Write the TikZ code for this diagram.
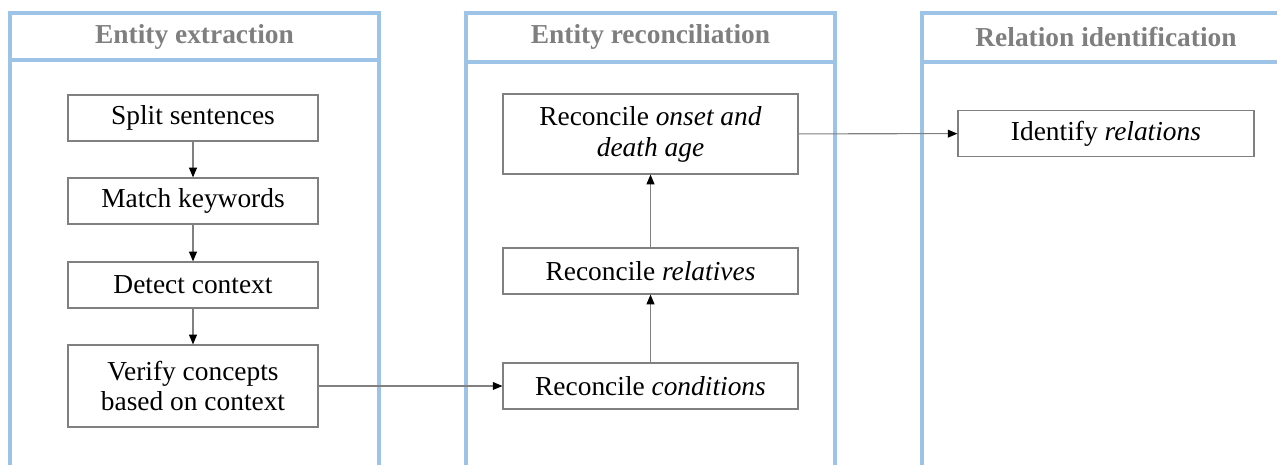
\documentclass[tikz,border=0pt]{standalone}
\usepackage{fontspec}
\setmainfont{Liberation Serif}
\usetikzlibrary{arrows.meta}

\definecolor{panelblue}{HTML}{9DC3E6}
\definecolor{headgray}{HTML}{7F7F7F}
\definecolor{boxgray}{HTML}{808080}

\begin{document}
\begin{tikzpicture}[
    x=0.02cm, y=-0.02cm,
    panel/.style={draw=panelblue, line width=2.2pt},
    head/.style={font=\fontsize{15.6}{17.6}\selectfont\bfseries, text=headgray},
    stepbox/.style={rectangle, draw=boxgray, line width=0.7pt, minimum width=5cm, minimum height=0.92cm, align=center, inner sep=2pt, font=\fontsize{15.6}{17.6}\selectfont},
    widebox/.style={stepbox, minimum width=5.9cm},
    arrow/.style={->, >={Triangle[length=5.5pt,width=4.5pt,color=black]}, draw=boxgray, line width=0.6pt}
]
\useasboundingbox (0,0) rectangle (1277,465);

% Panels (open at the bottom)
\draw[panel] (10,470) -- (10,13) -- (379,13) -- (379,470);
\draw[panel] (10,60) -- (379,60);
\draw[panel] (466,470) -- (466,13) -- (835,13) -- (835,470);
\draw[panel] (466,62) -- (835,62);
\draw[panel] (922,470) -- (922,13) -- (1285,13);
\draw[panel] (922,62) -- (1285,62);

% Panel headings
\node[head] (hextract) at (194.5,37) {Entity extraction};
\node[head] (hreconcile) at (650.5,37) {Entity reconciliation};
\node[head] (hrelation) at (1106,37) {Relation identification};

% Entity extraction steps
\node[stepbox] (split) at (193,118) {Split sentences};
\node[stepbox] (match) at (193,201) {Match keywords};
\node[stepbox] (detect) at (193,285) {Detect context};
\node[stepbox, minimum height=1.64cm] (verify) at (193,386) {Verify concepts\\based on context};

% Entity reconciliation steps
\node[widebox, minimum height=1.6cm] (onset) at (650.5,134) {Reconcile \textit{onset and}\\\textit{death age}};
\node[widebox] (relatives) at (650.5,271) {Reconcile \textit{relatives}};
\node[widebox] (conditions) at (650.5,386) {Reconcile \textit{conditions}};

% Relation identification
\node[widebox, minimum width=5.92cm] (identify) at (1106,133.5) {Identify \textit{relations}};

% Arrows
\draw[arrow] (split) -- (match);
\draw[arrow] (match) -- (detect);
\draw[arrow] (detect) -- (verify);
\draw[arrow] (verify) -- (conditions);
\draw[arrow] (conditions) -- (relatives);
\draw[arrow] (relatives) -- (onset);
\draw[arrow] (onset) -- (identify);

\end{tikzpicture}
\end{document}
